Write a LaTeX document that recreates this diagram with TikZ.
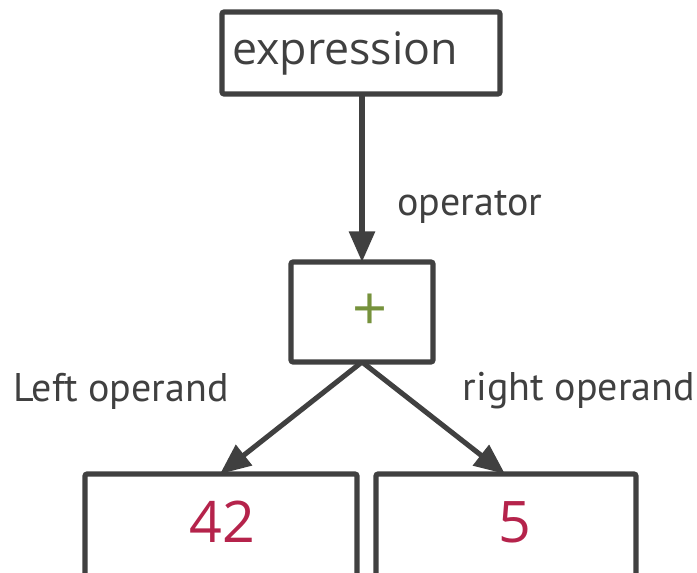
\documentclass[tikz,border=0pt]{standalone}
\usepackage{fontspec}
\setmainfont{Open Sans}
\newfontfamily\labfont{PT Sans}
\usetikzlibrary{arrows.meta}
\definecolor{ink}{HTML}{404040}
\definecolor{opgreen}{HTML}{76923C}
\definecolor{numred}{HTML}{B5234B}
\tikzset{
  box/.style={draw=ink, line width=3.8pt, rounded corners=1.5pt, fill=white},
  conn/.style={draw=ink, line width=3.8pt, -{Triangle[length=23pt,width=19pt]}},
  lab/.style={text=ink, font=\labfont\fontsize{30}{32}\selectfont, inner sep=0pt},
}
\begin{document}
\begin{tikzpicture}[x=0.75pt,y=-0.75pt]
\useasboundingbox (0,0) rectangle (697,573);
\clip (0,0) rectangle (697,573);
% boxes
\draw[box] (222,12) rectangle (500,94);
\node[text=ink, font=\fontsize{33.5}{36}\selectfont, inner sep=0pt, anchor=west] (expr) at (232,53) {expression};
\coordinate (exprB) at (362,94);
\draw[box] (291,262) rectangle (433,362);
\node[text=opgreen, font=\fontsize{46}{48}\selectfont, inner sep=0pt] (plus) at (370,312) {+};
\coordinate (plusT) at (362,262);
\coordinate (plusB) at (362,362);
\draw[box] (85,474) rectangle (357,600);
\draw[box] (376,474) rectangle (636,600);
\node[text=numred, font=\fontsize{43}{46}\selectfont, inner sep=0pt] (n42) at (222,522) {42};
\node[text=numred, font=\fontsize{43}{46}\selectfont, inner sep=0pt] (n5) at (515,522) {5};
\coordinate (lT) at (220,474);
\coordinate (rT) at (505,474);
% connectors
\draw[conn] (exprB) -- (plusT);
\draw[conn] (plusB) -- (lT);
\draw[conn] (plusB) -- (rT);
% labels
\node[lab] (op) at (470,207) {operator};
\node[lab] (lo) at (121,391) {Left operand};
\node[lab] (ro) at (579,391) {right operand};
\end{tikzpicture}
\end{document}
